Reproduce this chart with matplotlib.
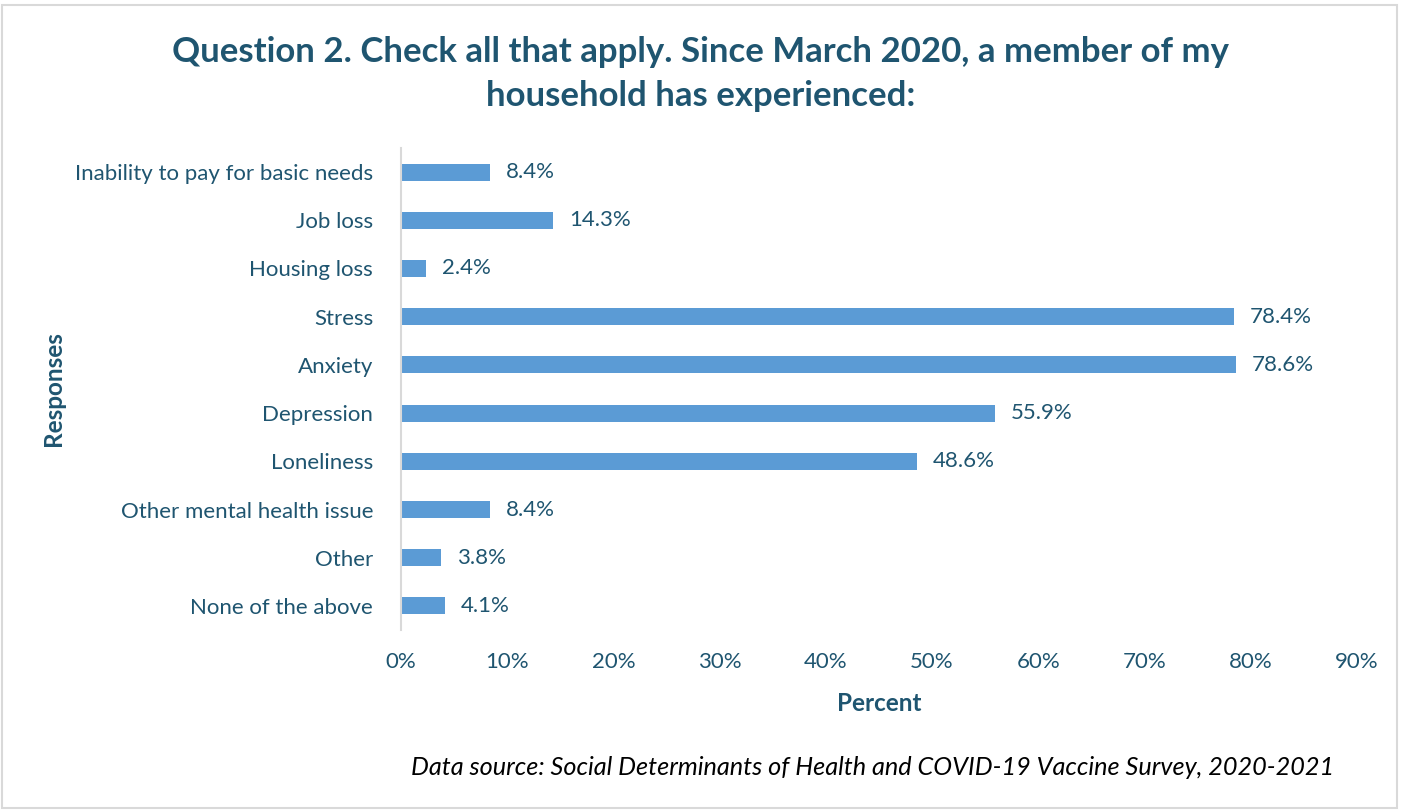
import matplotlib.pyplot as plt
from matplotlib.patches import Rectangle

# Dados
respostas = ['Inability to pay for basic needs', 'Job loss', 'Housing loss', 'Stress',
             'Anxiety', 'Depression', 'Loneliness', 'Other mental health issue',
             'Other', 'None of the above']
percentual = [8.4, 14.3, 2.4, 78.4, 78.6, 55.9, 48.6, 8.4, 3.8, 4.1]
xticks = [0, 10, 20, 30, 40, 50, 60, 70, 80, 90]

cor_barra = '#5b9bd5'
cor_texto = '#1f5570'

plt.rcParams['font.family'] = ['Lato', 'DejaVu Sans']

fig = plt.figure(figsize=(14.01, 8.10), dpi=100)
ax = fig.add_axes([0.2862, 0.2222, 0.6824, 0.5951])

y = list(range(len(respostas)))
ax.barh(y, percentual, height=0.35, color=cor_barra)
for yi, v in zip(y, percentual):
    ax.text(v + 1.5, yi, f'{v:.1f}%', va='center', ha='left', fontsize=16, color=cor_texto)

ax.set_ylim(len(respostas) - 0.5, -0.5)
ax.set_xlim(0, 90)
ax.set_yticks(y)
ax.set_yticklabels(respostas, fontsize=16, color=cor_texto)
ax.set_xticks(xticks)
ax.set_xticklabels([f'{t}%' for t in xticks], fontsize=16, color=cor_texto)
ax.tick_params(length=0)
ax.tick_params(axis='y', pad=20)
ax.tick_params(axis='x', pad=16)

for s in ['top', 'right', 'bottom']:
    ax.spines[s].set_visible(False)
ax.spines['left'].set_color('#d9d9d9')
ax.spines['left'].set_linewidth(1.5)

ax.set_xlabel('Percent', fontsize=17.5, fontweight='bold', color=cor_texto, labelpad=14)
fig.text(0.038, 0.52, 'Responses', rotation=90, ha='center', va='center',
         fontsize=17.5, fontweight='bold', color=cor_texto)

fig.text(0.5, 0.909, 'Question 2. Check all that apply. Since March 2020, a member of my\nhousehold has experienced:',
         ha='center', va='center', fontsize=25, fontweight='bold', color=cor_texto, linespacing=1.45)

fig.text(0.952, 0.053, 'Data source: Social Determinants of Health and COVID-19 Vaccine Survey, 2020-2021',
         ha='right', va='center', fontsize=18.2, style='italic', color='black')

fig.patches.append(Rectangle((0.0015, 0.002), 0.996, 0.992, transform=fig.transFigure,
                             fill=False, edgecolor='#d9d9d9', linewidth=1.5))

fig.savefig('out.png', dpi=100)
